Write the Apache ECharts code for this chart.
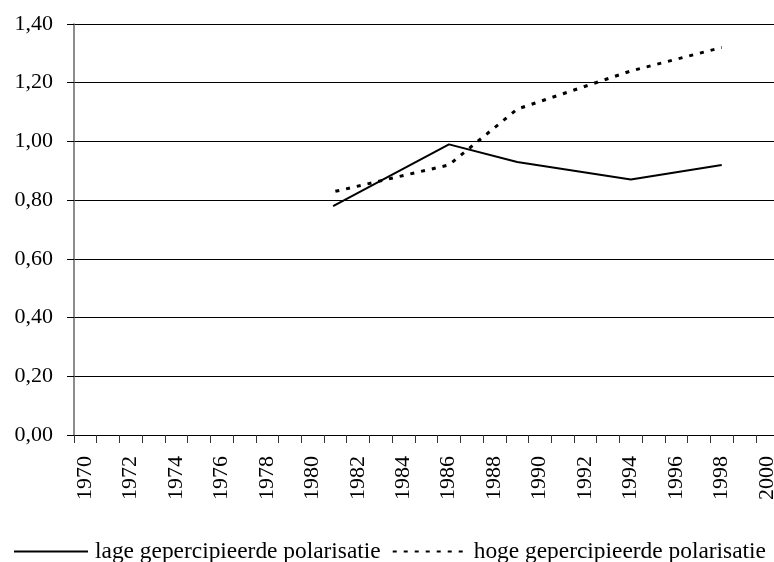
<!DOCTYPE html>
<html>
<head>
<meta charset="utf-8">
<script src="https://cdn.jsdelivr.net/npm/echarts@6/dist/echarts.min.js"></script>
<style>
  html, body { margin: 0; padding: 0; background: #fff; }
  #chart { width: 774px; height: 562px; }
</style>
</head>
<body>
<div id="chart"></div>
<script>
// values
const lageYears = [1981.4, 1986.5, 1989.5, 1994.5, 1998.5]
const lageValues = [0.78, 0.99, 0.93, 0.87, 0.92]
const hogeYears = [1981.5, 1986.5, 1989.5, 1994.5, 1998.5]
const hogeValues = [0.83, 0.92, 1.11, 1.24, 1.32]
const seriesNames = ['lage gepercipieerde polarisatie', 'hoge gepercipieerde polarisatie']

const font = 'Liberation Serif'
const zip = (xs, ys) => xs.map((x, i) => [x, ys[i]])

const myChart = echarts.init(document.getElementById('chart'))
myChart.setOption({
  animation: false,
  textStyle: { fontFamily: font },
  grid: {
    left: 74,
    right: 0,
    top: 24,
    bottom: 127,
    outerBoundsMode: 'none',
    containLabel: false
  },
  legend: {
    bottom: -1,
    left: 13,
    padding: 0,
    itemWidth: 74,
    itemHeight: 10,
    itemGap: 11,
    itemStyle: { opacity: 0 },
    textStyle: { fontFamily: font, fontSize: 23.4, color: '#000', padding: [0, 0, 0, 2] },
    data: seriesNames
  },
  xAxis: {
    type: 'value',
    min: 1970,
    max: 2000.8,
    interval: 1,
    splitLine: { show: false },
    axisLine: { lineStyle: { color: '#000', width: 1 } },
    axisTick: { show: true, length: 8, lineStyle: { color: '#333' } },
    axisLabel: {
      rotate: 90,
      margin: 21,
      verticalAlign: 'top',
      fontFamily: font,
      fontSize: 22,
      color: '#000',
      showMaxLabel: false,
      formatter: v => (Number.isInteger(v) && v % 2 === 0) ? String(v) : ''
    }
  },
  yAxis: {
    type: 'value',
    min: 0,
    max: 1.4,
    interval: 0.2,
    axisLine: { show: true, lineStyle: { color: '#666', width: 1.5 } },
    axisTick: { show: true, length: 7, lineStyle: { color: '#000' } },
    splitLine: { lineStyle: { color: '#000', width: 1 } },
    axisLabel: {
      margin: 21,
      fontFamily: font,
      fontSize: 22,
      color: '#000',
      formatter: v => v.toFixed(2).replace('.', ',')
    }
  },
  series: [{
    name: seriesNames[0],
    type: 'line',
    symbol: 'none',
    data: zip(lageYears, lageValues),
    lineStyle: { color: '#000', width: 2 },
    itemStyle: { color: '#000' }
  }, {
    name: seriesNames[1],
    type: 'line',
    symbol: 'none',
    data: zip(hogeYears, hogeValues),
    lineStyle: { color: '#000', width: 3, type: [4, 7] },
    itemStyle: { color: '#000' }
  }]
})

window.addEventListener('resize', () => { myChart.resize() })
</script>
</body>
</html>
